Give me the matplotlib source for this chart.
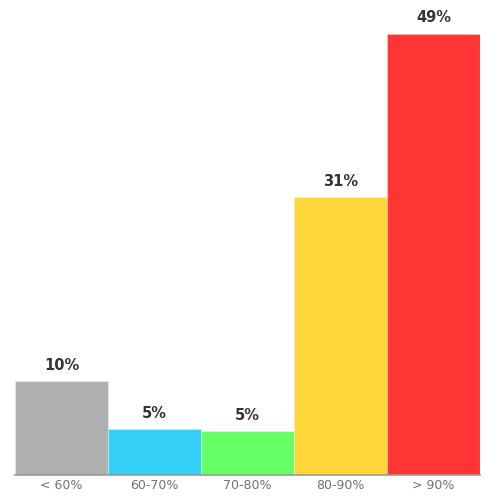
import matplotlib
matplotlib.use("Agg")
import matplotlib.pyplot as plt

categories = ["< 60%", "60-70%", "70-80%", "80-90%", "> 90%"]
values = [10.4, 5.1, 4.9, 30.8, 49.0]
labels = ["10%", "5%", "5%", "31%", "49%"]
colors = ["#b0b0b0", "#33cff7", "#66ff66", "#ffd63a", "#ff3535"]

fig = plt.figure(figsize=(5, 5), dpi=100)
ax = fig.add_axes([0.03, 0.05, 0.93, 0.91])
x = range(len(categories))
bars = ax.bar(x, values, width=1.0, color=colors, edgecolor=(1, 1, 1, 0.3), linewidth=0.8)
for b, lab in zip(bars, labels):
    ax.annotate(lab, (b.get_x() + b.get_width() / 2, b.get_height()),
                xytext=(0, 6), textcoords="offset points", ha="center", va="bottom",
                fontsize=10.5, fontweight="bold", color="#333333")
ax.set_xlim(-0.5, len(categories) - 0.5)
ax.set_ylim(0, 50.5)
ax.set_xticks(list(x))
ax.set_xticklabels(categories, fontsize=9, color="#707070")
ax.tick_params(axis="x", length=0, pad=3)
ax.set_yticks([])
for s in ["top", "left", "right"]:
    ax.spines[s].set_visible(False)
ax.spines["bottom"].set_color("#999999")
ax.spines["bottom"].set_linewidth(1.2)
fig.savefig("out.png", dpi=100)
